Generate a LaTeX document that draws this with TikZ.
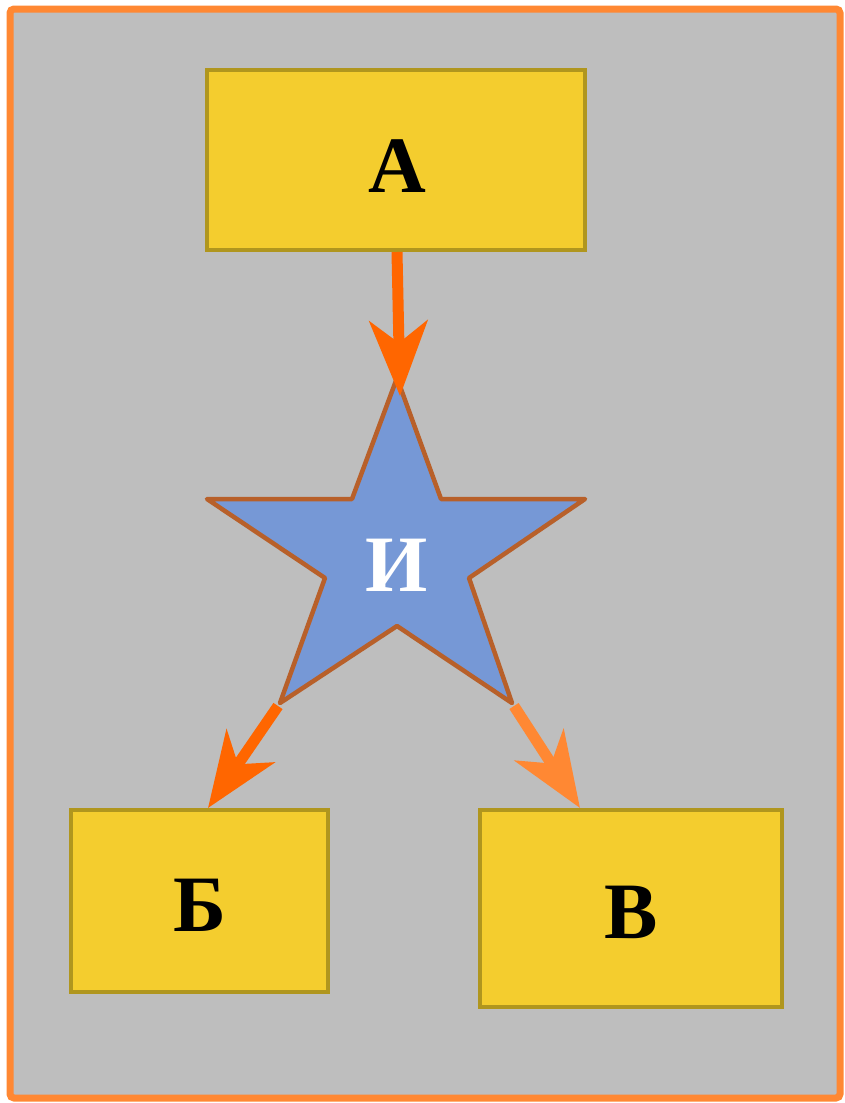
\documentclass[tikz,border=0pt]{standalone}
\usepackage{fontspec}
\setmainfont{Liberation Serif}
\usetikzlibrary{arrows.meta}
\definecolor{bgc}{HTML}{BEBEBE}
\definecolor{framec}{HTML}{FF8833}
\definecolor{boxfill}{HTML}{F4CD2E}
\definecolor{boxdraw}{HTML}{B0961E}
\definecolor{starfill}{HTML}{7698D6}
\definecolor{stardraw}{HTML}{B8602A}
\definecolor{arrA}{HTML}{FF6600}
\definecolor{arrB}{HTML}{FF8833}
\tikzset{
  boxnode/.style={draw=boxdraw, fill=boxfill, line width=4.5pt, inner sep=0pt, outer sep=0pt, anchor=north west},
  lbl/.style={font=\fontsize{80}{80}\selectfont\bfseries, inner sep=0pt},
  conn/.style={line width=11pt, -{Stealth[length=75pt, width=58pt, inset=22pt]}},
}
\begin{document}
\begin{tikzpicture}[x=1pt,y=-1pt]
\useasboundingbox (0,0) rectangle (844,1103);
\draw[framec, fill=bgc, line width=7pt, rounded corners=4pt] (10,9) rectangle (840,1098);
% boxes
\node[boxnode, minimum width=378pt, minimum height=180pt] (A) at (207,70) {};
\node[lbl] at (397,166) {А};
\node[boxnode, minimum width=257pt, minimum height=182pt] (B) at (71,810) {};
\node[lbl] at (200,905) {Б};
\node[boxnode, minimum width=302pt, minimum height=197pt] (V) at (480,810) {};
\node[lbl] at (631,912) {В};
% star
\coordinate (s1) at (397,378);
\coordinate (s2) at (441,499);
\coordinate (s3) at (585,499);
\coordinate (s4) at (469,578);
\coordinate (s5) at (512,703);
\coordinate (s6) at (397,626);
\coordinate (s7) at (280,703);
\coordinate (s8) at (325,578);
\coordinate (s9) at (207,499);
\coordinate (s10) at (352,499);
\draw[draw=stardraw, fill=starfill, line width=4.5pt, line join=round]
  (s1) -- (s2) -- (s3) -- (s4) -- (s5) -- (s6) -- (s7) -- (s8) -- (s9) -- (s10) -- cycle;
\node[lbl, text=white] (I) at (397,565) {И};
% connectors
\coordinate (Abot) at (397,252);
\coordinate (Itop) at (400,396);
\coordinate (Btop) at (208,808);
\coordinate (Vtop) at (580,808);
\coordinate (s7o) at (278,706);
\coordinate (s5o) at (514,706);
\draw[conn, arrA] (Abot) -- (Itop);
\draw[conn, arrA] (s7o) -- (Btop);
\draw[conn, arrB] (s5o) -- (Vtop);
\end{tikzpicture}
\end{document}
